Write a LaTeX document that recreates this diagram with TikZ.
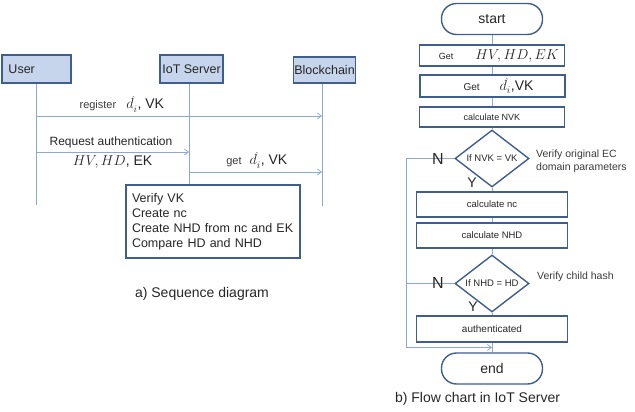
\documentclass[tikz,border=0pt]{standalone}
\usepackage{fontspec}
\setmainfont{Liberation Sans}
\usetikzlibrary{calc,positioning,arrows.meta,shapes.geometric}
\definecolor{ActorFill}{HTML}{C6D5EB}
\definecolor{BoxBlue}{HTML}{3F5E8C}
\definecolor{LineBlue}{HTML}{8DA8D4}
\definecolor{TextDark}{HTML}{262626}
\definecolor{NoteGray}{HTML}{3A3A3A}

\tikzset{
  actor/.style={draw=BoxBlue, line width=1.4pt, fill=ActorFill, text=TextDark,
    minimum height=28pt, inner sep=1pt, font=\fontsize{12.5}{14}\selectfont},
  lifeline/.style={draw=LineBlue, line width=0.8pt},
  message/.style={lifeline, -{Straight Barb[length=4pt,width=6pt]}},
  procbox/.style={draw=BoxBlue, line width=1.4pt, fill=white, text=TextDark,
    text width=162pt, align=left, minimum width=174pt, minimum height=73pt,
    inner xsep=6pt, font=\fontsize{12.5}{15}\selectfont},
  stepbox/.style={draw=BoxBlue, line width=1.4pt, text=TextDark,
    minimum width=145pt, minimum height=21pt, inner sep=1pt,
    font=\fontsize{9.5}{11}\selectfont},
  terminal/.style={draw=BoxBlue, line width=1.4pt, rounded corners=15pt, text=TextDark,
    minimum width=101pt, minimum height=31pt, font=\fontsize{14}{16}\selectfont},
  decision/.style={diamond, draw=BoxBlue, line width=1.4pt, aspect=1.3, inner sep=0pt,
    minimum width=74pt, minimum height=57pt, text=TextDark,
    font=\fontsize{9.5}{11}\selectfont},
  branch/.style={text=TextDark, inner sep=0pt},
  note/.style={anchor=west, align=left, inner sep=0pt, text=NoteGray,
    font=\fontsize{10.5}{13}\selectfont},
  caption/.style={text=TextDark, font=\fontsize{14}{16}\selectfont},
}

\begin{document}
\begin{tikzpicture}[x=1pt, y=-1pt]
  \useasboundingbox (0,0) rectangle (635,412);

  % a) sequence diagram
  \node[actor, minimum width=69pt, text width=56pt, align=left, inner xsep=6pt] (user) at (36.5,69) {User};
  \node[actor, minimum width=63pt] (iot) at (191.5,69) {IoT Server};
  \node[actor, minimum width=62pt, minimum height=26pt] (chain) at (324.5,70) {Blockchain};

  \coordinate (userEnd) at (36,205);
  \coordinate (iotEnd) at (189,185);
  \coordinate (chainEnd) at (322,206);
  \draw[lifeline] (user.south -| userEnd) -- (userEnd);
  \draw[lifeline] (iot.south -| iotEnd) -- (iotEnd);
  \draw[lifeline] (chain.south -| chainEnd) -- (chainEnd);

  \draw[message] (userEnd |- 0,116) -- node[above, pos=0.3, text=TextDark]
    {{\fontsize{11}{12}\selectfont\color{NoteGray}register}\hspace{10pt}{\fontsize{14}{15}\selectfont$d_{i}^{\hat{}}$, VK}}
    (chainEnd |- 0,116);
  \draw[message] (userEnd |- 0,152) --
    node[above, pos=0.49, text=TextDark, font=\fontsize{12}{14}\selectfont] (reqText) {Request authentication}
    node[below, pos=0.5, text=TextDark, font=\fontsize{14}{15}\selectfont] (reqArgs) {$HV, HD$, EK}
    (iotEnd |- 0,152);
  \draw[message] (iotEnd |- 0,172) -- node[above, pos=0.51, text=TextDark]
    {{\fontsize{11}{12}\selectfont\color{NoteGray}get}\hspace{8pt}{\fontsize{14}{15}\selectfont$d_{i}^{\hat{}}$, VK}}
    (chainEnd |- 0,172);

  \node[procbox] (verify) at (213,221.5) {Verify VK\\Create nc\\Create NHD from nc and EK\\Compare HD and NHD};
  \node[caption] (capA) at (202,294) {a) Sequence diagram};

  % b) flow chart
  \node[terminal] (start) at (492,19) {start};
  \node[stepbox] (getHV) at (492,55.5)
    {\hspace*{14pt}{\fontsize{9}{10}\selectfont Get}\hspace{22pt}{\fontsize{13.5}{14}\selectfont$HV, HD, EK$}};
  \node[stepbox, minimum height=22pt, line width=2pt] (getVK) at (492,86)
    {\hspace*{13pt}{\fontsize{10}{11}\selectfont Get}\hspace{20pt}{\fontsize{14}{15}\selectfont$d_{i}^{\hat{}}$,VK}};
  \node[stepbox, minimum height=20pt, font=\fontsize{9}{10}\selectfont] (calcNVK) at (492,117) {calculate NVK};
  \node[decision] (checkVK) at (492,158.5) {If NVK = VK};
  \node[stepbox, minimum width=151pt, minimum height=25pt] (calcNC) at (492,204.5) {calculate nc};
  \node[stepbox, minimum width=151pt, minimum height=25pt] (calcNHD) at (492,235.5) {calculate NHD};
  \node[decision] (checkHD) at (492,283.5) {If NHD = HD};
  \node[stepbox, minimum width=151pt, minimum height=26pt, font=\fontsize{10}{11}\selectfont] (auth) at (492,329) {authenticated};
  \node[terminal] (finish) at (492,368.5) {end};

  \foreach \a/\b in {start/getHV, getHV/getVK, getVK/calcNVK, calcNVK/checkVK, checkVK/calcNC,
                     calcNC/calcNHD, calcNHD/checkHD, checkHD/auth, auth/finish}
    \draw[lifeline] (\a.south) -- (\a.south |- \b.north);

  % N branches
  \coordinate (join) at ($(auth.south)!0.5!(finish.north)$);
  \coordinate (loopLeft) at (join -| 406,0);
  \draw[message] (checkVK.west) -- (checkVK.west -| loopLeft) -- (loopLeft) -- (join);
  \draw[lifeline] (checkHD.west) -- (checkHD.west -| loopLeft);

  \node[branch, font=\fontsize{16}{16}\selectfont] (noVK) at (438,159) {N};
  \node[branch, font=\fontsize{14}{14}\selectfont] (yesVK) at (472,183) {Y};
  \node[branch, font=\fontsize{16}{16}\selectfont] (noHD) at (438,283) {N};
  \node[branch, font=\fontsize{14}{14}\selectfont] (yesHD) at (473,307) {Y};

  \node[note] (noteVK) at (536,161.5) {Verify original EC\\domain parameters};
  \node[note] (noteHD) at (537,277) {Verify child hash};

  \node[caption] (capB) at (477.5,399) {b) Flow chart in IoT Server};
\end{tikzpicture}
\end{document}
